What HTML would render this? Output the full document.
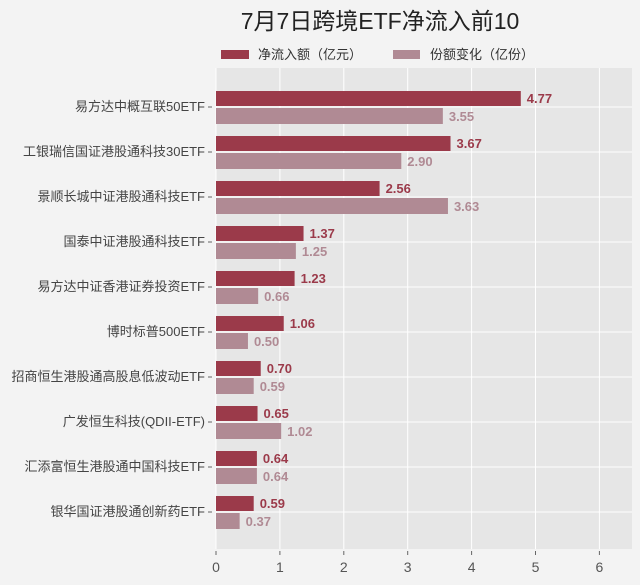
<!DOCTYPE html>
<html><head><meta charset="utf-8"><style>
body{margin:0;background:#f3f3f3;font-family:"Liberation Sans","Noto Sans CJK SC",sans-serif}
svg{display:block}
</style></head><body>
<svg id="c" width="640" height="585" xmlns="http://www.w3.org/2000/svg"></svg>
<script>
const categories=["易方达中概互联50ETF","工银瑞信国证港股通科技30ETF","景顺长城中证港股通科技ETF","国泰中证港股通科技ETF","易方达中证香港证券投资ETF","博时标普500ETF","招商恒生港股通高股息低波动ETF","广发恒生科技(QDII-ETF)","汇添富恒生港股通中国科技ETF","银华国证港股通创新药ETF"];
const netInflow=[4.77,3.67,2.56,1.37,1.23,1.06,0.70,0.65,0.64,0.59];
const shareChange=[3.55,2.90,3.63,1.25,0.66,0.50,0.59,1.02,0.64,0.37];
const ticks=[0,1,2,3,4,5,6];
const svg=document.getElementById('c');
const NS='http://www.w3.org/2000/svg';
function add(tag,attrs,text){const e=document.createElementNS(NS,tag);for(const k in attrs)e.setAttribute(k,attrs[k]);if(text!==undefined)e.textContent=text;svg.appendChild(e);return e;}
const x0=216,ppu=63.9,yTop=68,yBottom=549,xRight=632;
const xs=v=>x0+v*ppu;
const yc=i=>107+i*45;
let e;
e=add('text',{x:380,y:29,'text-anchor':'middle','font-size':23,fill:'#222'},'7月7日跨境ETF净流入前10');


e=add('rect',{x:221,y:50,width:28,height:9,fill:'#9b3a4a'});


e=add('text',{x:258,y:59,'font-size':13,fill:'#333'},'净流入额（亿元）');


e=add('rect',{x:393,y:50,width:27,height:9,fill:'#b08a94'});


e=add('text',{x:430,y:59,'font-size':13,fill:'#333'},'份额变化（亿份）');


e=add('rect',{x:x0,y:yTop,width:xRight-x0,height:yBottom-yTop,fill:'#e6e6e6'});


ticks.forEach(t=>{
  e=add('line',{x1:xs(t),x2:xs(t),y1:yTop,y2:yBottom,stroke:'#fff','stroke-width':1});
  
  
  e=add('line',{x1:xs(t),x2:xs(t),y1:yBottom+2,y2:yBottom+6,stroke:'#666'});
  
  
  e=add('text',{x:xs(t),y:572,'text-anchor':'middle','font-size':14,fill:'#555'},String(t));
  
  
});
categories.forEach((c,i)=>{
  const y=yc(i);
  e=add('line',{x1:x0,x2:xRight,y1:y,y2:y,stroke:'#fff'});
  
  
  e=add('line',{x1:208,x2:212,y1:y,y2:y,stroke:'#666'});
  
  
  e=add('text',{x:205,y:y+4,'text-anchor':'end','font-size':13,fill:'#444'},c);
  
  
  const a=netInflow[i],b=shareChange[i];
  e=add('rect',{x:x0,y:y-16,width:xs(a)-x0,height:15,fill:'#9b3a4a'});
  
  
  e=add('text',{x:xs(a)+6,y:y-4,'font-size':13,'font-weight':'bold',fill:'#9b3a4a'},a.toFixed(2));
  
  
  e=add('rect',{x:x0,y:y+1,width:xs(b)-x0,height:16,fill:'#b08a94'});
  
  
  e=add('text',{x:xs(b)+6,y:y+14,'font-size':13,'font-weight':'bold',fill:'#b08a94'},b.toFixed(2));
  
  
});
</script>
</body></html>
